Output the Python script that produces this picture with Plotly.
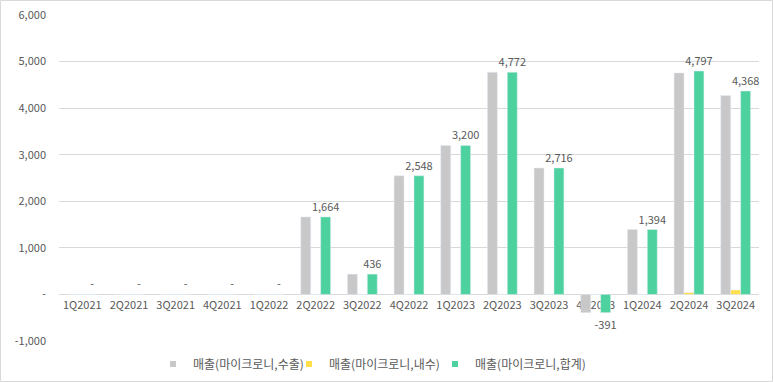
import plotly.graph_objects as go

categories = ["1Q2021", "2Q2021", "3Q2021", "4Q2021", "1Q2022", "2Q2022", "3Q2022", "4Q2022",
              "1Q2023", "2Q2023", "3Q2023", "4Q2023", "1Q2024", "2Q2024", "3Q2024"]
export_vals = [0, 0, 0, 0, 0, 1664, 436, 2548, 3200, 4772, 2716, -391, 1394, 4757, 4273]
domestic_vals = [0, 0, 0, 0, 0, 0, 0, 0, 0, 0, 0, 0, 0, 40, 95]
total_vals = [0, 0, 0, 0, 0, 1664, 436, 2548, 3200, 4772, 2716, -391, 1394, 4797, 4368]
y_tickvals = [-1000, 0, 1000, 2000, 3000, 4000, 5000, 6000]
y_ticktext = ["-1,000", "-", "1,000", "2,000", "3,000", "4,000", "5,000", "6,000"]
series_names = ["매출(마이크로니,수출)", "매출(마이크로니,내수)", "매출(마이크로니,합계)"]
series_colors = ["#C8C8C8", "#FFDF4A", "#4DD29F"]

def fmt(v):
    return "-" if v == 0 else f"{v:,}"

W, H = 773, 382
ml, mr, mt, mb = 59, 14, 15, 41
pw, ph = W - ml - mr, H - mt - mb
FONT = "Noto Sans CJK KR, DejaVu Sans, sans-serif"

fig = go.Figure()
fig.add_bar(x=categories, y=export_vals, name=series_names[0], marker_color=series_colors[0],
            showlegend=False)
fig.add_bar(x=categories, y=domestic_vals, name=series_names[1], marker_color=series_colors[1],
            showlegend=False)
fig.add_bar(x=categories, y=total_vals, name=series_names[2], marker_color=series_colors[2],
            showlegend=False,
            text=[fmt(v) for v in total_vals], textposition="outside", cliponaxis=False,
            constraintext="none",
            textfont=dict(size=11, color="#595959", family=FONT))

# legend entries (small square swatches like the reference), one legend box each
legend_ids = ["legend", "legend2", "legend3"]
legend_x = [153, 289, 435]
for name, color, lid in zip(series_names, series_colors, legend_ids):
    fig.add_scatter(x=[None], y=[None], mode="markers", name=name, legend=lid,
                    marker=dict(symbol="square", size=6, color=color))

legend_common = dict(orientation="h", xref="container", yref="container",
                     xanchor="left", y=1 - 364 / H, yanchor="middle",
                     font=dict(size=12, color="#595959", family=FONT),
                     itemwidth=30, bgcolor="rgba(0,0,0,0)")

fig.update_layout(
    width=W, height=H,
    margin=dict(l=ml, r=mr, t=mt, b=mb, autoexpand=False),
    paper_bgcolor="white", plot_bgcolor="white",
    barmode="group", bargap=0.36, bargroupgap=0,
    font=dict(family=FONT, size=11, color="#595959"),
    showlegend=True,
    legend=dict(x=legend_x[0] / W, **legend_common),
    legend2=dict(x=legend_x[1] / W, **legend_common),
    legend3=dict(x=legend_x[2] / W, **legend_common),
    xaxis=dict(type="category", anchor="free", position=1000 / 7000, showgrid=False,
               showline=True, linecolor="#D9D9D9", linewidth=1, ticks="", layer="below traces",
               automargin=False,
               tickfont=dict(size=11, color="#595959", family=FONT)),
    yaxis=dict(range=[-1000, 6000], tickvals=y_tickvals, ticktext=y_ticktext,
               showgrid=True, gridcolor="#D9D9D9", gridwidth=1, zeroline=False,
               showline=False, ticks="", ticklabelstandoff=12, automargin=False,
               tickfont=dict(size=11, color="#595959", family=FONT)),
    shapes=[dict(type="rect", xref="paper", yref="paper",
                 x0=(-ml + 0.5) / pw, x1=1 + (mr - 0.5) / pw,
                 y0=(-mb + 0.5) / ph, y1=1 + (mt - 0.5) / ph,
                 line=dict(color="#D9D9D9", width=1), fillcolor="rgba(0,0,0,0)", layer="below")],
)

fig.write_html("out.html", config={"displayModeBar": False},
               post_script="document.body.style.margin='0';document.body.style.overflow='hidden';")
